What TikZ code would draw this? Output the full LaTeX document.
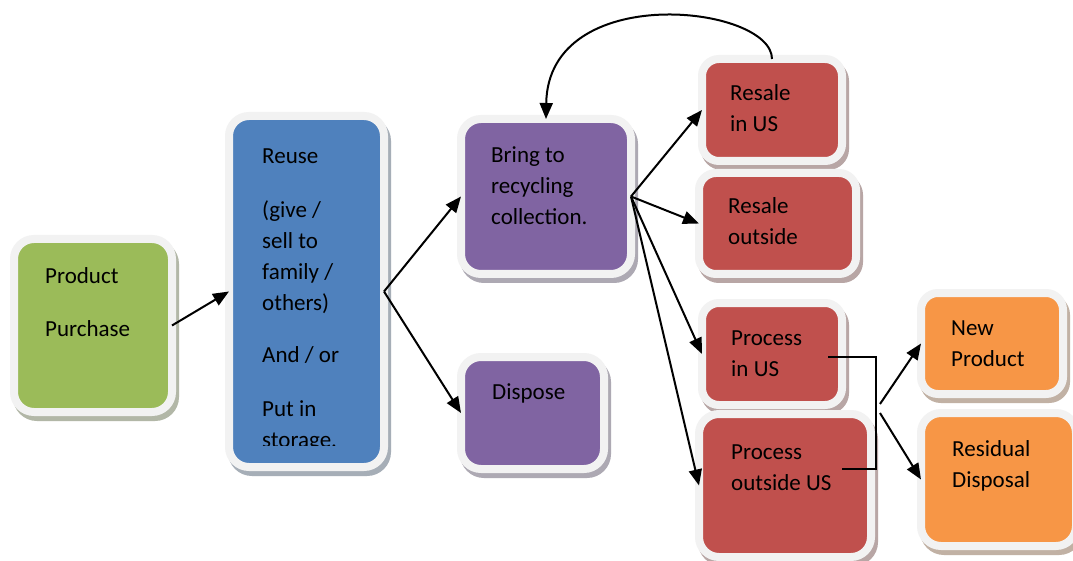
\documentclass[tikz,border=0pt]{standalone}
\usepackage{fontspec}
\setmainfont{Carlito}
\usetikzlibrary{arrows.meta}
\definecolor{cgreen}{HTML}{9BBB59}
\definecolor{cblue}{HTML}{4F81BD}
\definecolor{cpurple}{HTML}{8064A2}
\definecolor{cred}{HTML}{C0504D}
\definecolor{corange}{HTML}{F79646}
\definecolor{ring}{HTML}{F2F2F2}
\tikzset{
  pbox/.style={rectangle, draw=ring, line width=8pt, rounded corners=20pt, fill=#1,
    inner sep=0pt, outer sep=0pt,
    preaction={draw=#1!40!black!40, fill=#1!40!black!40, line width=8pt,
      transform canvas={shift={(3pt,-5pt)}}}},
  lbl/.style={anchor=base west, align=left, inner sep=0pt, font=\fontsize{23}{31}\selectfont},
  arr/.style={line width=2pt, -{Triangle[length=16pt,width=13pt]}},
  ln/.style={line width=2pt}
}
\begin{document}
\begin{tikzpicture}[x=1pt,y=-1pt]
\useasboundingbox[fill=white] (0,0) rectangle (1073,561);
% boxes
\node[pbox=cgreen, minimum width=158pt, minimum height=173pt] (pp) at (93,325.5) {};
\node[pbox=cblue, minimum width=155pt, minimum height=351pt] (reuse) at (306.5,291.5) {};
\node[pbox=cpurple, minimum width=170pt, minimum height=155pt] (bring) at (546,196.5) {};
\node[pbox=cpurple, minimum width=143pt, minimum height=112pt] (dispose) at (532.5,413) {};
\node[pbox=cred, rounded corners=17pt, minimum width=140pt, minimum height=102pt] (riu) at (772,110) {};
\node[pbox=cred, rounded corners=17pt, minimum width=157pt, minimum height=101pt] (rout) at (777.5,223.5) {};
\node[pbox=cred, rounded corners=17pt, minimum width=140pt, minimum height=102pt] (piu) at (772,354) {};
\node[pbox=cred, minimum width=172pt, minimum height=143pt] (pout) at (785,485.5) {};
\node[pbox=corange, rounded corners=17pt, minimum width=142pt, minimum height=101pt] (newp) at (992,343.5) {};
\node[pbox=corange, minimum width=155pt, minimum height=133pt] (resid) at (998.5,479.5) {};
% texts (anchored at the baseline of their last line)
\node[lbl] (ppt) at (45,336) {Product\\[22pt]Purchase};
\begin{scope}
\clip (233,100) rectangle (380,445);
\node[lbl] (reuset) at (262,447) {Reuse\\[23pt](give /\\sell to\\family /\\others)\\[21pt]And / or\\[23pt]Put in\\storage.};
\end{scope}
\node[lbl] (bringt) at (491,225) {Bring to\\recycling\\collection.};
\node[lbl] (disposet) at (492,399) {Dispose};
\node[lbl] (riut) at (730,132) {Resale\\in US};
\node[lbl] (routt) at (728,245) {Resale\\outside};
\node[lbl] (piut) at (731,376) {Process\\in US};
\node[lbl] (poutt) at (731,490) {Process\\outside US};
\node[lbl] (newpt) at (951,366) {New\\Product};
\node[lbl] (residt) at (952,487) {Residual\\Disposal};
% connectors
\draw[arr] (pp.east) -- (reuse.west);
\draw[arr] (reuse.east) -- (bring.west);
\draw[arr] (reuse.east) -- (dispose.west);
\draw[arr] (bring.east) -- (riu.west);
\draw[arr] (bring.east) -- (rout.west);
\draw[arr] (bring.east) -- (piu.west);
\draw[arr] (bring.east) -- (pout.west);
\draw[arr] (riu.north) .. controls (772,5) and (548,-20) .. (bring.north);
\coordinate (e1) at (828,357);
\coordinate (e2) at (842,469);
\coordinate (ej) at (876,413);
\draw[ln] (e1) -| (ej) |- (e2);
\coordinate (b1) at (880,404);
\coordinate (b2) at (880,413);
\draw[arr] (b1) -- (newp.west);
\draw[arr] (b2) -- (resid.west);
\end{tikzpicture}
\end{document}
